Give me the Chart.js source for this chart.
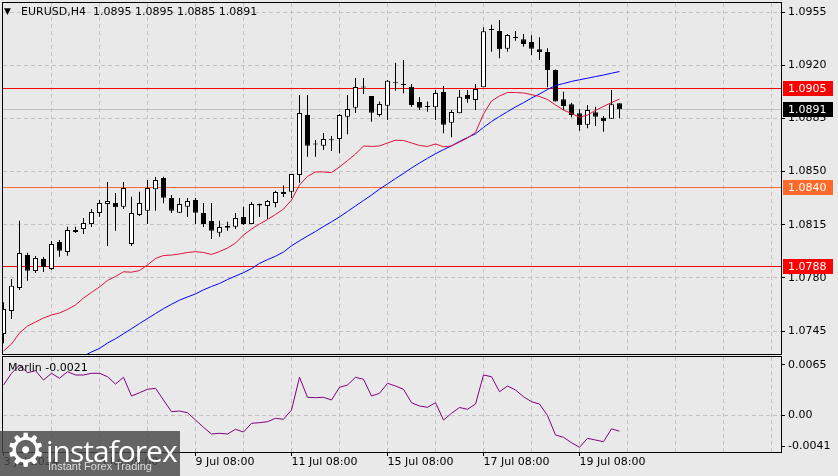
<!DOCTYPE html>
<html>
<head>
<meta charset="utf-8">
<title>EURUSD H4</title>
<script src="https://cdn.jsdelivr.net/npm/chart.js@4.4.1/dist/chart.umd.min.js"></script>
<style>
  html, body { margin: 0; padding: 0; }
  body { width: 838px; height: 476px; background: #e9e9e9; position: relative; overflow: hidden; font-family: "DejaVu Sans", sans-serif; color: #000; }
  canvas { position: absolute; left: 0; }
  #main { top: 0; }
  #sub { top: 356px; }
  .caption { position: absolute; font-size: 11px; white-space: pre; line-height: 13px; }
  #tri { left: 4px; top: 5px; font-size: 9px; }
  #title { left: 21px; top: 5px; }
  #osc { left: 8px; top: 361px; }
  #logo { position: absolute; left: 0; top: 431px; width: 180px; height: 45px; background: rgba(72,72,72,0.82); overflow: hidden; }
  #logo .gear { position: absolute; left: 5px; top: -8px; font-size: 46px; color: #fff; }
  #logo .brand { position: absolute; left: 46px; top: -1px; font-size: 30px; color: #fff; font-family: "Open Sans", sans-serif; letter-spacing: -1px; }
  #logo .tag { position: absolute; left: 48px; top: 29px; font-size: 11px; color: #dddddd; font-family: "Liberation Sans", sans-serif; }
</style>
</head>
<body>
<canvas id="main" width="838" height="356"></canvas>
<canvas id="sub" width="838" height="120"></canvas>
<div class="caption" id="tri">▼</div>
<div class="caption" id="title"></div>
<div class="caption" id="osc"></div>
<div id="logo"><div class="gear">⚙</div><div class="brand">instaforex</div><div class="tag">Instant Forex Trading</div></div>
<script>
// EURUSD H4, bar index 0 = 3 Jul 08:00
const symbol = 'EURUSD,H4';
const oscName = 'Marlin';
const timeLabels = ['3 Jul 2024', '5 Jul 08:00', '9 Jul 08:00', '11 Jul 08:00', '15 Jul 08:00', '17 Jul 08:00', '19 Jul 08:00'];
const labelBars = [0, 12, 24, 36, 48, 60, 72];

const opens = [1.0743,1.07582,1.07733,1.0795,1.07845,1.07924,1.07858,1.08036,1.0797,1.08102,
  1.08121,1.08154,1.08227,1.08286,1.08293,1.08268,1.08023,1.08214,1.08242,1.08383,
  1.08457,1.08326,1.08229,1.08268,1.08312,1.08227,1.08174,1.08097,1.08141,1.08136,
  1.082,1.08154,1.08286,1.08273,1.08293,1.08352,1.08367,1.08477,1.08872,1.08684,
  1.0867,1.08705,1.08714,1.08861,1.0892,1.0906,1.08997,1.08872,1.08933,1.09081,
  1.09076,1.09058,1.08958,1.08929,1.08923,1.09023,1.08821,1.08883,1.09004,1.08971,
  1.09054,1.09432,1.09425,1.09308,1.09382,1.0937,1.09353,1.09304,1.09287,1.09168,
  1.08975,1.08942,1.08883,1.08808,1.0889,1.08854,1.08848,1.0895];
const highs = [1.0764,1.07792,1.08176,1.07965,1.07944,1.07937,1.08042,1.08049,1.08137,1.08137,
  1.08194,1.08253,1.08312,1.08431,1.08358,1.08431,1.08334,1.08367,1.08444,1.08464,
  1.08466,1.08345,1.08326,1.08326,1.08326,1.08293,1.08293,1.08176,1.0817,1.08227,
  1.08268,1.08299,1.08289,1.08312,1.08374,1.08408,1.08484,1.09004,1.09004,1.08707,
  1.08753,1.08734,1.08879,1.09004,1.09116,1.09116,1.08997,1.0896,1.09102,1.09216,
  1.09234,1.09076,1.0899,1.0896,1.09037,1.09063,1.08905,1.09037,1.09037,1.09076,
  1.09449,1.09466,1.09497,1.09405,1.09425,1.09405,1.09397,1.09383,1.09311,1.09172,
  1.09025,1.08953,1.08909,1.08938,1.08927,1.08865,1.09037,1.0895];
const lows = [1.0737,1.07529,1.0772,1.07781,1.07832,1.07838,1.07852,1.07939,1.07946,1.08095,
  1.08089,1.08135,1.08202,1.0801,1.0811,1.08253,1.0801,1.08207,1.08154,1.08242,
  1.08291,1.08227,1.08227,1.082,1.08154,1.08135,1.08056,1.08071,1.0811,1.08121,
  1.08148,1.08154,1.082,1.08187,1.08264,1.08332,1.08326,1.08426,1.08597,1.08597,
  1.08642,1.08635,1.0862,1.08745,1.08885,1.0901,1.08828,1.08861,1.08839,1.09032,
  1.09015,1.08925,1.08905,1.08894,1.08839,1.08751,1.08725,1.08883,1.08953,1.08905,
  1.09054,1.09289,1.09245,1.09289,1.09361,1.09322,1.09267,1.09234,1.09054,1.0896,
  1.08905,1.08857,1.08769,1.08784,1.088,1.08762,1.08848,1.0885];
const closes = [1.07595,1.07748,1.07963,1.07847,1.07931,1.07871,1.08023,1.07979,1.08115,1.08115,
  1.08161,1.08233,1.08293,1.08306,1.08264,1.08391,1.08227,1.08293,1.08391,1.08444,
  1.08328,1.08242,1.08286,1.08306,1.08229,1.08154,1.0811,1.08135,1.0813,1.08194,
  1.08154,1.08286,1.08276,1.08306,1.08365,1.08365,1.08484,1.08885,1.0867,1.08678,
  1.08714,1.08709,1.08872,1.08911,1.09056,1.09053,1.08887,1.08944,1.09098,1.09087,
  1.09069,1.08938,1.0892,1.08925,1.09017,1.08808,1.08892,1.08992,1.08975,1.09043,
  1.09423,1.09438,1.09304,1.09399,1.09379,1.09339,1.09308,1.09287,1.09168,1.0896,
  1.08931,1.08872,1.08804,1.08905,1.08861,1.0883,1.08942,1.0891];

// moving averages
const maFast = [1.07318,1.07364,1.07437,1.07483,1.07509,1.07536,1.07555,1.07569,1.07592,1.07621,
  1.07667,1.07704,1.0774,1.07783,1.07809,1.0784,1.07837,1.07848,1.07885,1.07927,
  1.07947,1.0795,1.07957,1.07967,1.07972,1.07967,1.07954,1.07973,1.07996,1.08029,
  1.08082,1.08121,1.08154,1.08184,1.08217,1.08253,1.08312,1.08411,1.08468,1.08497,
  1.08497,1.08493,1.0853,1.08572,1.08615,1.08668,1.08665,1.08668,1.08688,1.08706,
  1.08704,1.08688,1.08671,1.08665,1.08681,1.08663,1.08668,1.08694,1.08721,1.08757,
  1.08879,1.08964,1.08997,1.0902,1.0902,1.09017,1.09006,1.08994,1.08974,1.08938,
  1.08905,1.08882,1.08857,1.08872,1.08902,1.08928,1.08954,1.08977];
const maSlow = [null,null,null,null,null,null,null,null,null,null,
  1.07285,1.07312,1.07335,1.07371,1.07399,1.07432,1.07465,1.07499,1.07532,1.07565,
  1.07597,1.07626,1.07653,1.07674,1.07694,1.07721,1.07743,1.07763,1.07789,1.07812,
  1.07834,1.07861,1.07895,1.0792,1.07942,1.0797,1.08011,1.08044,1.08075,1.08105,
  1.08138,1.08169,1.08201,1.08237,1.08273,1.08309,1.08345,1.08384,1.08418,1.08454,
  1.08487,1.08523,1.08556,1.08587,1.08617,1.08644,1.08669,1.08698,1.08724,1.08748,
  1.0879,1.08829,1.08862,1.08894,1.08925,1.08953,1.08983,1.0901,1.0904,1.09066,
  1.09079,1.09093,1.09104,1.09114,1.09125,1.09135,1.09147,1.09158];

const marlin = [0.0039,0.00542,0.0065,0.0055,0.00576,0.00455,0.00542,0.00477,0.00563,0.0052,
  0.0052,0.00542,0.00542,0.00498,0.00403,0.0049,0.00247,0.0029,0.00334,0.00347,
  0.00195,0.00043,0.00052,0.0003,-0.00065,-0.0016,-0.00247,-0.00238,-0.00247,-0.00186,
  -0.00221,-0.00108,-0.001,-0.00087,-0.00043,-0.00056,0.00065,0.0049,0.0023,0.00225,
  0.0023,0.00195,0.0036,0.0039,0.0049,0.00464,0.00247,0.00282,0.00412,0.00377,
  0.00334,0.0016,0.00117,0.001,0.0016,-0.00065,0.00022,0.00098,0.00074,0.00143,
  0.0052,0.00498,0.00303,0.00377,0.00325,0.00238,0.00173,0.00143,-0.00007,-0.0026,
  -0.0029,-0.0036,-0.0042,-0.00303,-0.00325,-0.00347,-0.0018,-0.0021];

const priceTicks = [1.0955, 1.0920, 1.0885, 1.0850, 1.0815, 1.0780, 1.0745];
const marlinTicks = [0.0065, 0, -0.0041];
const levels = [1.0905, 1.0840, 1.0788];
const levelColors = ['#ff0000', '#ff6a2a', '#ff0000'];
const lastPrice = 1.0891;

const FONT = { family: 'DejaVu Sans', size: 11 };
const GRID = '#c3c3c3';
const X_MIN = -0.0625, X_MAX = 97.1875;
const gridBars = [];
for (let i = 0; i <= 96; i += 6) gridBars.push(i);

const last = opens.length - 1;
document.getElementById('title').textContent = symbol + '  ' +
  [opens[last], highs[last], lows[last], closes[last]].map(v => v.toFixed(4)).join(' ');
document.getElementById('osc').textContent = oscName + ' ' + marlin[last].toFixed(4);

const bodies = opens.map((o, i) => ({ x: i, y: [o, closes[i]] }));
const wicks = opens.map((o, i) => ({ x: i, y: [lows[i], highs[i]] }));
const bodyFill = opens.map((o, i) => (closes[i] - o > 0.00008 ? '#ffffff' : '#000000'));

// frame, level lines and price tags
const panelFrame = {
  id: 'panelFrame',
  beforeDatasetsDraw(chart, args, opts) {
    const { ctx, chartArea: a, scales: { y } } = chart;
    ctx.save();
    ctx.lineWidth = 1;
    (opts.lines || []).forEach(l => {
      const py = Math.round(y.getPixelForValue(l.value)) + 0.5;
      ctx.strokeStyle = l.color;
      ctx.beginPath();
      ctx.moveTo(a.left, py);
      ctx.lineTo(a.right, py);
      ctx.stroke();
    });
    ctx.restore();
  },
  afterDraw(chart, args, opts) {
    const { ctx, chartArea: a, scales: { y } } = chart;
    ctx.save();
    ctx.strokeStyle = '#000';
    ctx.lineWidth = 1;
    ctx.strokeRect(a.left - 0.5, a.top - 0.5, a.width + 1, a.height + 1);
    ctx.font = '11px "DejaVu Sans"';
    ctx.textBaseline = 'middle';
    (opts.tags || []).forEach(t => {
      const py = Math.round(y.getPixelForValue(t.value));
      ctx.fillStyle = t.color;
      ctx.fillRect(a.right + 2, py - 7, 50, 15);
      ctx.fillStyle = '#fff';
      ctx.fillText(t.value.toFixed(4), a.right + 7, py + 1);
    });
    ctx.restore();
  }
};

const lineSet = [{ value: lastPrice, color: '#c0c0c0' }];
levels.forEach((v, k) => lineSet.push({ value: v, color: levelColors[k] }));
const tagSet = levels.map((v, k) => ({ value: v, color: levelColors[k] }));
tagSet.push({ value: lastPrice, color: '#000000' });

function noPad(s) {
  s.paddingTop = 0; s.paddingBottom = 0; s.paddingLeft = 0; s.paddingRight = 0;
}

new Chart(document.getElementById('main'), {
  type: 'line',
  plugins: [panelFrame],
  data: {
    datasets: [
      { label: 'MA fast', data: maFast.map((v, i) => ({ x: i, y: v })), borderColor: '#dc143c', borderWidth: 1, pointRadius: 0, tension: 0 },
      { label: 'MA slow', data: maSlow.map((v, i) => ({ x: i, y: v })), borderColor: '#0000ff', borderWidth: 1, pointRadius: 0, tension: 0 },
      { type: 'bar', label: 'body', data: bodies, backgroundColor: bodyFill, borderColor: '#000', borderWidth: 1,
        borderSkipped: false, barThickness: 5, grouped: false, minBarLength: 1, inflateAmount: 0 },
      { type: 'bar', label: 'wick', data: wicks, backgroundColor: '#000', borderWidth: 0,
        barThickness: 1, grouped: false, inflateAmount: 0 }
    ]
  },
  options: {
    responsive: false, animation: false, events: [],
    layout: { padding: { left: 3, top: 3, right: 0, bottom: 2 } },
    plugins: { legend: { display: false }, tooltip: { enabled: false }, panelFrame: { lines: lineSet, tags: tagSet } },
    scales: {
      x: {
        type: 'linear', min: X_MIN, max: X_MAX, offset: false,
        afterBuildTicks: s => { s.ticks = gridBars.map(v => ({ value: v })); },
        afterFit: noPad,
        ticks: { display: false },
        grid: { offset: false, drawTicks: false, color: c => (c.tick && c.tick.value === 0 ? 'transparent' : GRID) },
        border: { display: false, dash: [4, 3] }
      },
      y: {
        position: 'right', min: 1.072986, max: 1.0960925,
        afterBuildTicks: s => { s.ticks = priceTicks.map(v => ({ value: v })); },
        afterFit: s => { s.width = 57; noPad(s); },
        ticks: { color: '#000', font: FONT, padding: 3, autoSkip: false, callback: v => v.toFixed(4) },
        grid: { color: GRID, tickColor: '#000', tickLength: 4, tickBorderDash: [] },
        border: { display: false, dash: [4, 3] }
      }
    }
  }
});

new Chart(document.getElementById('sub'), {
  type: 'line',
  plugins: [panelFrame],
  data: {
    datasets: [
      { label: oscName, data: marlin.map((v, i) => ({ x: i, y: v })), borderColor: '#800080', borderWidth: 1, pointRadius: 0, tension: 0 }
    ]
  },
  options: {
    responsive: false, animation: false, events: [],
    layout: { padding: { left: 3, top: 1, right: 0, bottom: 0 } },
    plugins: { legend: { display: false }, tooltip: { enabled: false }, panelFrame: {} },
    scales: {
      x: {
        type: 'linear', min: X_MIN, max: X_MAX, offset: false,
        afterBuildTicks: s => { s.ticks = gridBars.map(v => ({ value: v })); },
        afterFit: s => { s.height = 24; noPad(s); },
        ticks: {
          autoSkip: false, maxRotation: 0, minRotation: 0, align: 'start', padding: 0, color: '#000', font: FONT,
          callback: v => { const k = labelBars.indexOf(v); return k >= 0 ? timeLabels[k] : ''; }
        },
        grid: {
          offset: false, tickLength: 4, tickBorderDash: [],
          color: c => (c.tick && c.tick.value === 0 ? 'transparent' : GRID),
          tickColor: c => (c.tick && labelBars.includes(c.tick.value) ? '#000' : 'transparent')
        },
        border: { display: false, dash: [4, 3] }
      },
      y: {
        position: 'right', min: -0.00481, max: 0.00754,
        afterBuildTicks: s => { s.ticks = marlinTicks.map(v => ({ value: v })); },
        afterFit: s => { s.width = 57; noPad(s); },
        ticks: { color: '#000', font: FONT, padding: 3, autoSkip: false, callback: v => (v === 0 ? '0.00' : v.toFixed(4)) },
        grid: { tickColor: '#000', tickLength: 4, tickBorderDash: [], color: c => (c.tick && c.tick.value === 0 ? GRID : 'transparent') },
        border: { display: false, dash: [4, 3] }
      }
    }
  }
});
</script>
</body>
</html>
